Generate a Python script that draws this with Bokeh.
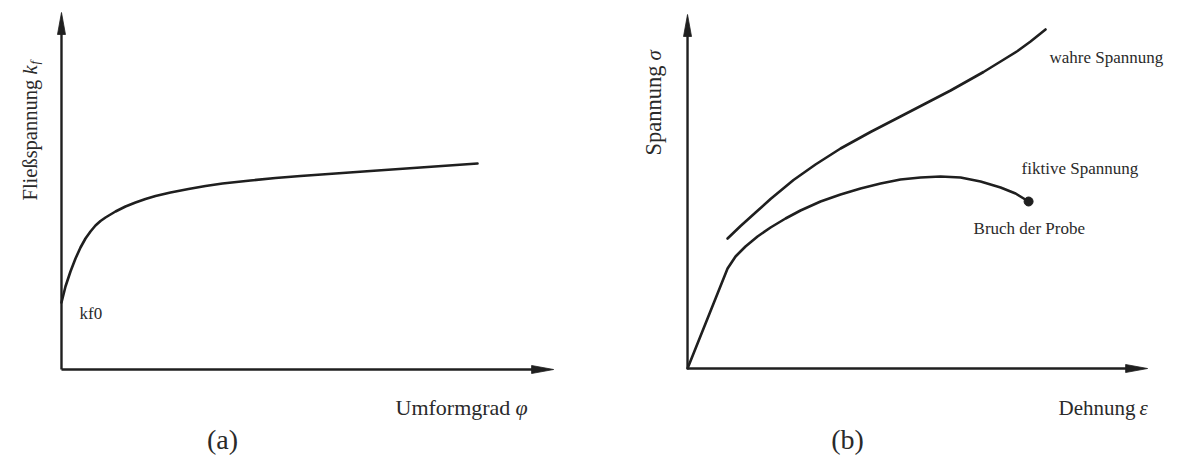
import math
from bokeh.plotting import figure
from bokeh.layouts import row
from bokeh.models import Label, Range1d
from bokeh.embed import file_html
from bokeh.resources import INLINE

# (a) flow curve: flow stress k_f over true strain phi
phi = [0, 0.0096, 0.0216, 0.0337, 0.0457, 0.0577, 0.0697, 0.0817, 0.0938, 0.1058,
       0.1178, 0.1298, 0.1538, 0.1779, 0.2019, 0.226, 0.262, 0.3053, 0.3462, 0.387,
       0.4543, 0.5144, 0.5745, 0.6587, 0.7428, 0.863, 1.0]
kf = [134, 166, 196, 222, 244, 262, 276, 288, 297, 304,
      310, 316, 326, 334, 341, 347, 354, 361, 367, 372,
      378, 383, 387, 392, 397, 404, 412]

# (b) tensile test: engineering (fiktive) and true (wahre) stress over strain in %
eps_eng = [0, 2.86, 3.43, 4.14, 5.0, 5.93, 7.0, 8.07, 9.5, 10.93, 12.36, 13.79,
           15.21, 16.64, 18.07, 19.5, 20.93, 22.36, 23.43, 24.36]
sig_eng = [0, 200, 224, 244, 264, 282, 300, 316, 334, 348, 360, 370,
           378, 382, 384, 382, 374, 362, 350, 334]
eps_true = [2.86, 3.79, 4.86, 5.93, 7.57, 9.14, 10.93, 13.07, 15.21, 17.0,
            18.79, 21.14, 22.36, 23.57, 24.5, 25.57]
sig_true = [260, 285, 312, 339, 377, 408, 440, 473, 504, 530,
            556, 593, 614, 635, 654, 678]

INK = "#1f1f1f"
TXT = "#2a2a2a"
SERIF = "Liberation Serif"


def base_fig(xr, yr):
    p = figure(width=590, height=463, x_range=Range1d(*xr), y_range=Range1d(*yr),
               output_backend="svg", toolbar_location=None, min_border=0,
               min_border_left=0, min_border_right=0, min_border_top=0, min_border_bottom=0)
    p.axis.visible = False
    p.grid.visible = False
    p.outline_line_color = None
    p.background_fill_color = "white"
    p.border_fill_color = "white"
    return p


def arrow_axes(p, xmax, ymax, hx, hy):
    # axis lines from the origin, with slender arrow heads
    # hx / hy: (head length, half width) in data units
    p.line([0, 0], [0, ymax - hy[0] * 0.6], line_color=INK, line_width=2.4)
    p.line([0, xmax - hx[0] * 0.6], [0, 0], line_color=INK, line_width=2.4)
    p.patch([0, -hy[1], hy[1]], [ymax, ymax - hy[0], ymax - hy[0]],
            fill_color=INK, line_color=INK, line_width=0.8)
    p.patch([xmax, xmax - hx[0], xmax - hx[0]], [0, hx[1], -hx[1]],
            fill_color=INK, line_color=INK, line_width=0.8)


def lab(p, x, y, text, size, italic=False, align="left", baseline="alphabetic", angle=0.0):
    p.add_layout(Label(x=x, y=y, text=text, text_font=SERIF, text_font_size=f"{size}px",
                       text_font_style="italic" if italic else "normal",
                       text_color=TXT, text_align=align, text_baseline=baseline,
                       angle=angle, angle_units="rad"))


def curve(p, x, y):
    p.line(x, y, line_color=INK, line_width=2.6, line_join="round", line_cap="round")


# ---- panel (a)
pa = base_fig((-0.1466, 1.2716), (-188, 738))
arrow_axes(pa, 1.183, 714, hx=(0.053, 8), hy=(44, 0.0096))
curve(pa, phi, kf)

lab(pa, -0.0745, 338, "Fließspannung", 20.5, angle=math.pi / 2)
lab(pa, -0.0745, 590, "k", 20.5, italic=True, angle=math.pi / 2)
lab(pa, -0.0649, 610, "f", 13, italic=True, angle=math.pi / 2)
lab(pa, 0.0433, 112, "kf0", 17)
lab(pa, 0.8029, -76, "Umformgrad", 22)
lab(pa, 1.0913, -76, "φ", 22, italic=True)
lab(pa, 0.387, -140, "(a)", 28, align="center", baseline="middle")

# ---- panel (b)
pb = base_fig((-6.93, 35.21), (-190, 736))
arrow_axes(pb, 32.86, 708, hx=(1.57, 8), hy=(44, 0.286))
curve(pb, eps_true, sig_true)
curve(pb, eps_eng, sig_eng)
pb.scatter(eps_eng[-1:], sig_eng[-1:], size=9, color=INK)

lab(pb, -2.43, 426, "Spannung", 22.5, angle=math.pi / 2)
lab(pb, -2.43, 616, "σ", 21, italic=True, angle=math.pi / 2)
lab(pb, 26.5, -78, "Dehnung", 21)
lab(pb, 32.29, -78, "ε", 21, italic=True)
lab(pb, 25.857, 622, "wahre Spannung", 17)
lab(pb, 23.857, 400, "fiktive Spannung", 17)
lab(pb, 20.429, 280, "Bruch der Probe", 17)
lab(pb, 11.43, -142, "(b)", 28, align="center", baseline="middle")

layout = row(pa, pb, spacing=0)
open("out.html", "w").write(file_html(layout, INLINE))
